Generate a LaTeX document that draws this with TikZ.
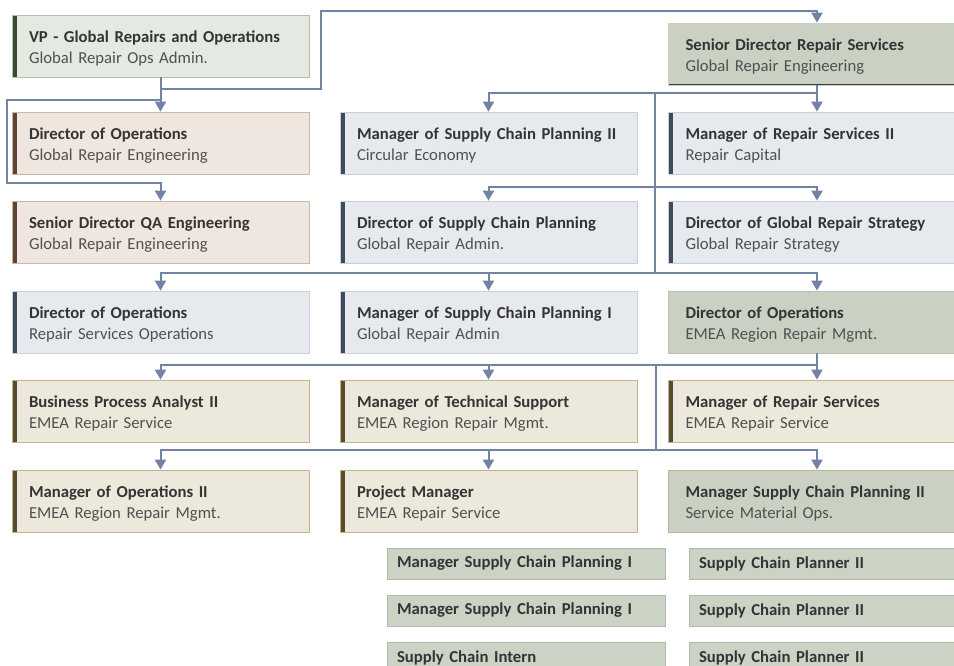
\documentclass[tikz,border=0pt]{standalone}
\usepackage{fontspec}
\setmainfont{Carlito}
\usetikzlibrary{arrows.meta}

\definecolor{linkblue}{RGB}{114,131,163}
\definecolor{titlegray}{RGB}{52,52,52}
\definecolor{subgray}{RGB}{80,80,80}
% fills, edges and side bars of the cards
\definecolor{vpfill}{RGB}{228,233,225}
\definecolor{vpedge}{RGB}{182,190,173}
\definecolor{vpbar}{RGB}{58,74,49}
\definecolor{pinkfill}{RGB}{239,230,224}
\definecolor{pinkedge}{RGB}{201,184,170}
\definecolor{pinkbar}{RGB}{94,68,52}
\definecolor{bluefill}{RGB}{230,233,238}
\definecolor{blueedge}{RGB}{201,208,218}
\definecolor{bluebar}{RGB}{61,75,92}
\definecolor{beigefill}{RGB}{237,232,220}
\definecolor{beigeedge}{RGB}{193,180,147}
\definecolor{beigebar}{RGB}{89,74,44}
\definecolor{greenfill}{RGB}{202,209,194}
\definecolor{greenedge}{RGB}{186,194,176}
\definecolor{darkedge}{RGB}{60,60,60}
\definecolor{smallfill}{RGB}{203,211,196}
\definecolor{smalledge}{RGB}{176,186,172}
\definecolor{smalldark}{RGB}{138,155,176}

\newcommand{\cardtext}[2]{\mbox{\rule{0pt}{17pt}\textcolor{titlegray}{\bfseries #1}}\\\mbox{#2}}

\tikzset{
  link/.style={draw=linkblue, line width=2pt, -{Triangle[width=11pt,length=10pt]}},
  wire/.style={draw=linkblue, line width=2pt},
  card/.style n args={3}{rectangle, minimum width=297pt, minimum height=62pt,
    inner xsep=17pt, text width=263pt, align=left, text=subgray,
    font=\fontsize{16.7}{21}\selectfont, fill=#1, draw=#2, line width=0.8pt,
    path picture={\fill[#3] (path picture bounding box.south west)
      rectangle ([xshift=4.5pt]path picture bounding box.north west);}},
  vpcard/.style={card={vpfill}{vpedge}{vpbar}},
  pinkcard/.style={card={pinkfill}{pinkedge}{pinkbar}},
  bluecard/.style={card={bluefill}{blueedge}{bluebar}},
  beigecard/.style={card={beigefill}{beigeedge}{beigebar}},
  greencard/.style={card={greenfill}{greenedge}{greenfill}},
  greenhead/.style={card={greenfill}{greenfill}{greenfill},
    path picture={\draw[line width=2.6pt, darkedge]
      (path picture bounding box.north west) -- (path picture bounding box.north east)
      (path picture bounding box.south west) -- (path picture bounding box.south east);}},
  smallcard/.style={rectangle, minimum width=278pt, minimum height=31pt,
    inner xsep=10pt, text width=258pt, align=left, text=titlegray,
    font=\fontsize{16.7}{19}\selectfont\bfseries, fill=smallfill, draw=smalledge, line width=0.8pt,
    path picture={\draw[line width=2.4pt, smalldark]
      (path picture bounding box.south west) -- (path picture bounding box.north west)
      -- (path picture bounding box.north east);}},
}

\begin{document}
\begin{tikzpicture}[x=1pt,y=-1pt]
  \useasboundingbox (0,0) rectangle (954,665);
  \fill[white] (0,0) rectangle (954,665);

  % top
  \node[vpcard] (vp) at (160.5,46) {\cardtext{VP - Global Repairs and Operations}{Global Repair Ops Admin.}};
  \node[greenhead] (srdir) at (817,54) {\cardtext{Senior Director Repair Services}{Global Repair Engineering}};

  % row 2
  \node[pinkcard] (dirops) at (160.5,143) {\cardtext{Director of Operations}{Global Repair Engineering}};
  \node[bluecard] (mscp2) at (488.5,143) {\cardtext{Manager of Supply Chain Planning II}{Circular Economy}};
  \node[bluecard] (mrs2) at (817,143) {\cardtext{Manager of Repair Services II}{Repair Capital}};

  % row 3
  \node[pinkcard] (srqa) at (160.5,232) {\cardtext{Senior Director QA Engineering}{Global Repair Engineering}};
  \node[bluecard] (dscp) at (488.5,232) {\cardtext{Director of Supply Chain Planning}{Global Repair Admin.}};
  \node[bluecard] (dgrs) at (817,232) {\cardtext{Director of Global Repair Strategy}{Global Repair Strategy}};

  % row 4
  \node[bluecard] (dorso) at (160.5,322) {\cardtext{Director of Operations}{Repair Services Operations}};
  \node[bluecard] (mscp1) at (488.5,322) {\cardtext{Manager of Supply Chain Planning I}{Global Repair Admin}};
  \node[greencard] (doemea) at (817,322) {\cardtext{Director of Operations}{EMEA Region Repair Mgmt.}};

  % row 5
  \node[beigecard] (bpa) at (160.5,411) {\cardtext{Business Process Analyst II}{EMEA Repair Service}};
  \node[beigecard] (mts) at (488.5,411) {\cardtext{Manager of Technical Support}{EMEA Region Repair Mgmt.}};
  \node[beigecard] (mrs) at (817,411) {\cardtext{Manager of Repair Services}{EMEA Repair Service}};

  % row 6
  \node[beigecard] (mops) at (160.5,501) {\cardtext{Manager of Operations II}{EMEA Region Repair Mgmt.}};
  \node[beigecard] (pm) at (488.5,501) {\cardtext{Project Manager}{EMEA Repair Service}};
  \node[card={greenfill}{beigeedge}{greenfill}] (mscpsm) at (817,501) {\cardtext{Manager Supply Chain Planning II}{Service Material Ops.}};

  % small cards
  \node[smallcard] (sa1) at (526,563.5) {Manager Supply Chain Planning I};
  \node[smallcard] (sa2) at (526,610.5) {Manager Supply Chain Planning I};
  \node[smallcard] (sa3) at (526,657.5) {Supply Chain Intern};
  \node[smallcard] (sb1) at (828,563.5) {Supply Chain Planner II};
  \node[smallcard] (sb2) at (828,610.5) {Supply Chain Planner II};
  \node[smallcard] (sb3) at (828,657.5) {Supply Chain Planner II};

  % bends of the connectors
  \coordinate (toprun) at (321,11);
  \coordinate (leftrun) at (7,183);
  \coordinate (sdA) at (655,93);
  \coordinate (sdB) at (655,187);
  \coordinate (sdC) at (655,273);
  \coordinate (emA) at (656,365);
  \coordinate (emB) at (656,450);

  % VP
  \draw[link] (vp.south) -- (dirops.north);
  \draw[link] (vp.south) -- ++(0,12) -| (toprun) -| (srdir.north);
  \draw[link] (vp.south) -- ++(0,23) -| (leftrun) -| (srqa.north);

  % Senior Director Repair Services
  \draw[wire] (srdir.south) |- (sdA) -- (sdC);
  \draw[link] (srdir.south) -- (mrs2.north);
  \draw[link] (sdA) -| (mscp2.north);
  \draw[link] (sdB) -| (dscp.north);
  \draw[link] (sdB) -| (dgrs.north);
  \draw[link] (sdC) -| (dorso.north);
  \draw[link] (sdC) -| (mscp1.north);
  \draw[link] (sdC) -| (doemea.north);

  % Director of Operations EMEA
  \draw[wire] (doemea.south) |- (emA) -- (emB);
  \draw[link] (doemea.south) -- (mrs.north);
  \draw[link] (emA) -| (bpa.north);
  \draw[link] (emA) -| (mts.north);
  \draw[link] (emB) -| (mops.north);
  \draw[link] (emB) -| (pm.north);
  \draw[link] (emB) -| (mscpsm.north);
\end{tikzpicture}
\end{document}
